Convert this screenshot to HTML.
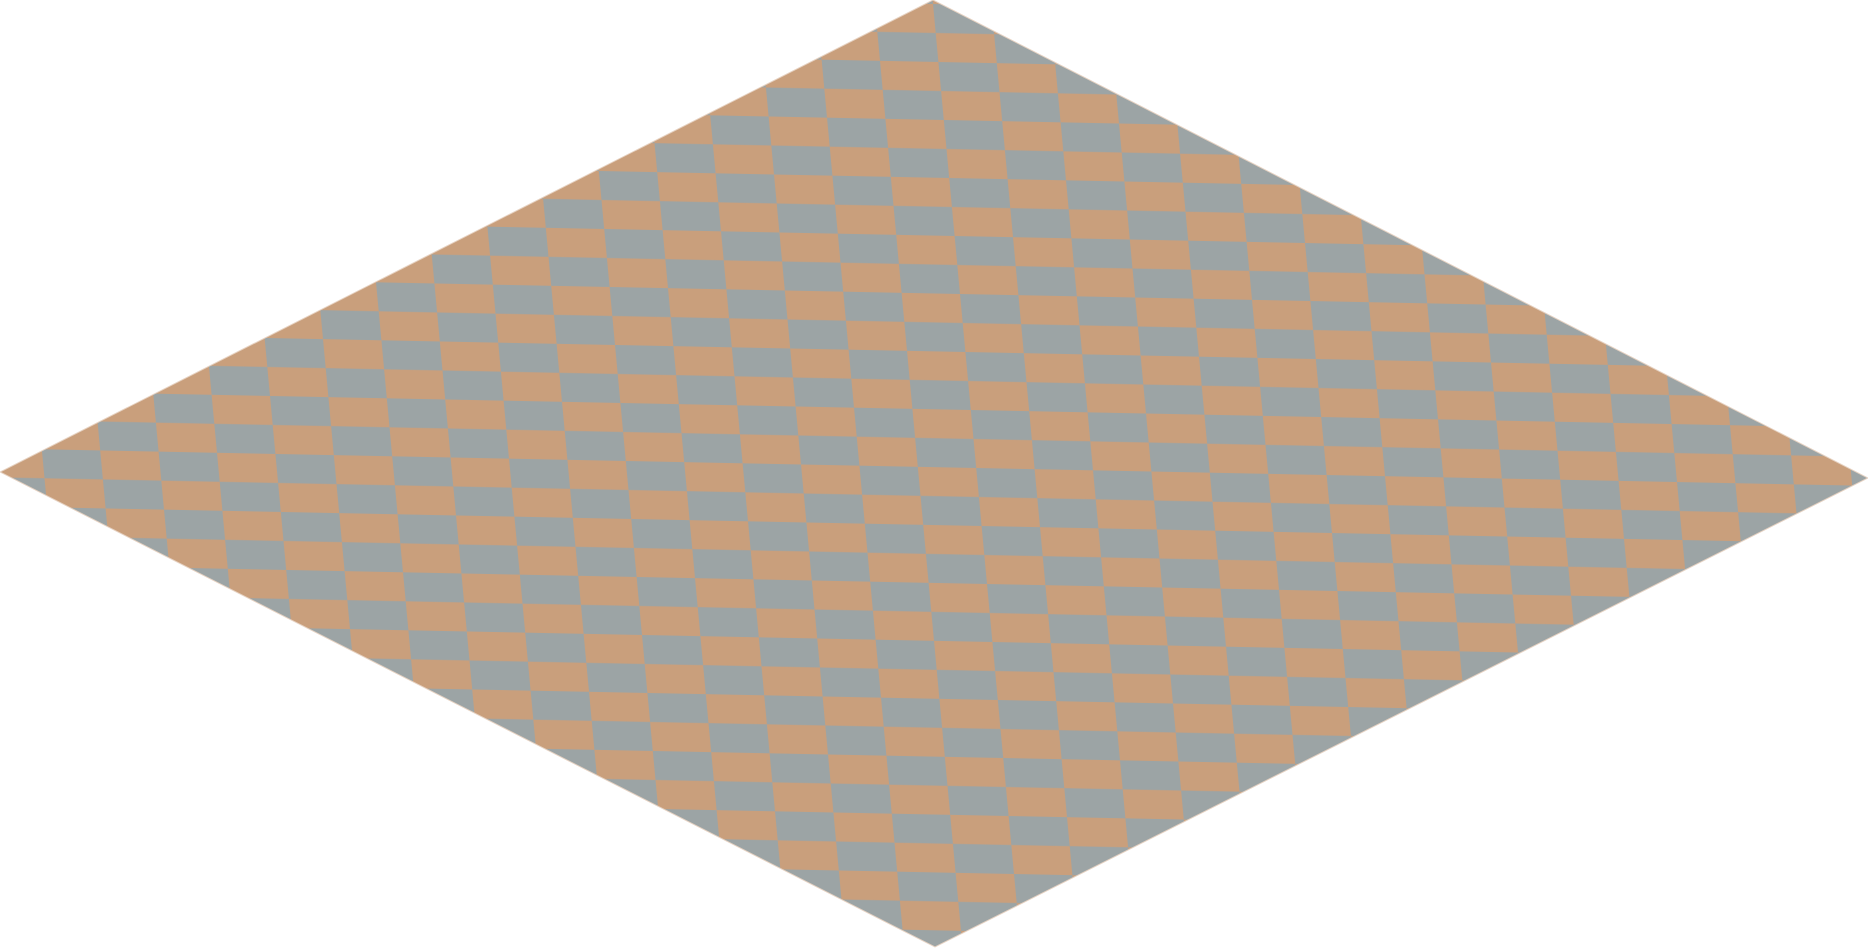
<!DOCTYPE html>
<html>
<head>
<meta charset="utf-8">
<style>
  html, body { margin: 0; padding: 0; background: #ffffff; }
  body { width: 1868px; height: 948px; overflow: hidden; }
  svg { display: block; }
</style>
</head>
<body>
<svg width="1868" height="948" viewBox="0 0 1868 948">
  <defs>
    <pattern id="checker" patternUnits="userSpaceOnUse" width="2" height="2"
             patternTransform="matrix(58.4 1.17 2.7 29 933 4)">
      <rect x="0" y="0" width="2" height="2" fill="#c99f7c"/>
      <rect x="0" y="0" width="1" height="1" fill="#9ca4a5"/>
      <rect x="1" y="1" width="1" height="1" fill="#9ca4a5"/>
    </pattern>
  </defs>
  <polygon
           points="933,0 1868,478 935,947 0,472"
           fill="url(#checker)" stroke="#e6d2c2" stroke-width="1"/>
</svg>
</body>
</html>
